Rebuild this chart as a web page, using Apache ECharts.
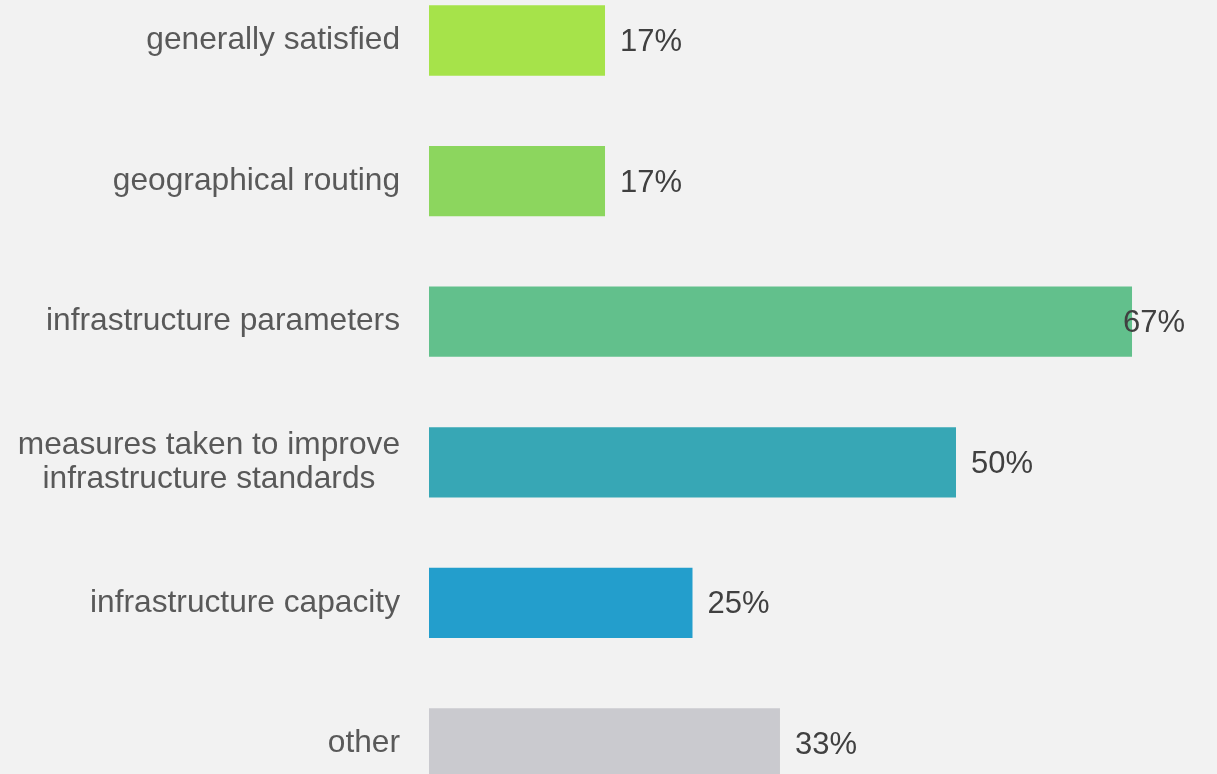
<!DOCTYPE html>
<html>
<head>
<meta charset="utf-8">
<script src="https://cdn.jsdelivr.net/npm/echarts@6/dist/echarts.min.js"></script>
<style>
html,body{margin:0;padding:0;background:#f2f2f2;}
#c{width:1217px;height:774px;}
</style>
</head>
<body>
<div id="c"></div>
<script>
var categories = ['generally satisfied', 'geographical routing', 'infrastructure parameters', 'measures taken to improve\ninfrastructure standards', 'infrastructure capacity', 'other'];
var values = [16.7, 16.7, 66.7, 50, 25, 33.3];
var colors = ['#a6e34a', '#8cd65e', '#62c08c', '#37a7b5', '#239ecc', '#cacacf'];

var FONT = "'Liberation Sans', Arial, sans-serif";
var chart = echarts.init(document.getElementById('c'), null, {renderer: 'canvas'});
var seriesData = values.map(function (v, i) {
  var item = {value: v, itemStyle: {color: colors[i]}};
  if (i === 2) item.label = {offset: [-24, 2]};
  return item;
});
chart.setOption({
  backgroundColor: '#f2f2f2',
  animation: false,
  grid: {left: 429, top: -29.8, width: 737.8, height: 843.6, containLabel: false, outerBoundsMode: 'none'},
  xAxis: {type: 'value', min: 0, max: 70, show: false},
  yAxis: {
    type: 'category',
    inverse: true,
    data: categories,
    axisLine: {show: false},
    axisTick: {show: false},
    splitLine: {show: false},
    axisLabel: {
      margin: 29,
      formatter: function (v) {
        return v.split('\n').map(function (s) { return '{c|' + s + '}'; }).join('\n');
      },
      rich: {
        c: {align: 'center', fontSize: 31.7, lineHeight: 34, color: '#595959', fontFamily: FONT}
      }
    }
  },
  series: [{
    type: 'bar',
    data: seriesData,
    barCategoryGap: '50%',
    label: {
      show: true,
      position: 'right',
      distance: 15,
      offset: [0, 2],
      fontSize: 31,
      color: '#404040',
      fontFamily: FONT,
      formatter: function (p) { return Math.round(p.value) + '%'; }
    }
  }]
});
</script>
</body>
</html>
